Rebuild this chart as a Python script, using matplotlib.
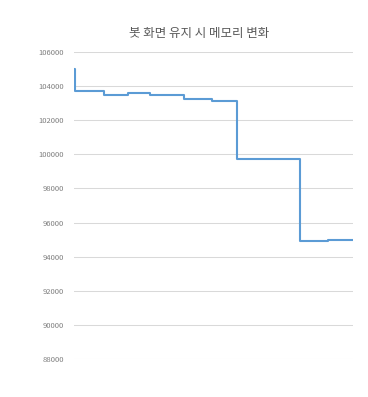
import matplotlib
matplotlib.use('Agg')
import matplotlib.pyplot as plt

plt.rcParams['font.family'] = ['Noto Sans CJK KR', 'DejaVu Sans']

# step points: sample index where a new memory level starts, and the level
sample_idx = [0, 1, 29, 30, 53, 54, 75, 76, 109, 110, 135, 138, 162, 163, 225, 226, 253, 254, 279]
memory = [105000, 103700, 103700, 103500, 103500, 103570, 103570, 103500, 103500, 103270,
          103270, 103100, 103100, 99750, 99750, 94930, 94930, 94970, 94970]

y_ticks = [88000, 90000, 92000, 94000, 96000, 98000, 100000, 102000, 104000, 106000]
title = '봇 화면 유지 시 메모리 변화'

fig = plt.figure(figsize=(3.68, 3.97), dpi=100)
ax = fig.add_axes([74 / 368, 1 - 359 / 397, (353 - 74) / 368, (359 - 52) / 397])

ax.plot(sample_idx, memory, color='#5B9BD5', linewidth=1.5, drawstyle='steps-post')

ax.set_xlim(-0.5, 279)
ax.set_ylim(88000, 106000)
ax.set_yticks(y_ticks)
ax.set_yticklabels([str(v) for v in y_ticks], fontsize=5.5, color='#7f7f7f')
ax.set_xticks([])
ax.tick_params(axis='y', length=0, pad=7)
ax.grid(axis='y', color='#d9d9d9', linewidth=0.75)
ax.set_axisbelow(True)
for s in ax.spines.values():
    s.set_visible(False)

fig.text(199 / 368, 1 - 33 / 397, title, fontsize=9, color='#595959', ha='center', va='center')

fig.savefig('out.png', dpi=100)
